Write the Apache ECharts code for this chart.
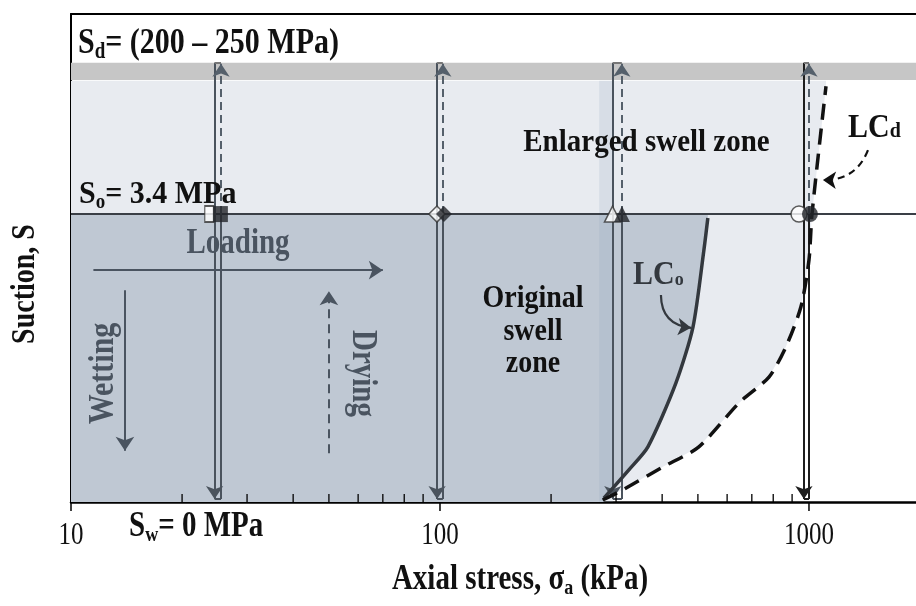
<!DOCTYPE html>
<html><head><meta charset="utf-8">
<script src="https://cdn.jsdelivr.net/npm/echarts@6/dist/echarts.min.js"></script>
<style>html,body{margin:0;padding:0;background:#fff}#c{width:916px;height:606px}</style>
</head><body><div id="c"></div>
<script>
// ---- data ----
const xRange=[10,1950];
const yRange=[0,100];
const majorTicks=[10,100,1000];
const tickLabels=['10','100','1000'];
const minorTicks=[20,30,40,50,60,70,80,90,200,300,400,500,600,700,800,900];
const suctionSo=59.0;
const suctionSdBand=[86.5,90.0];
const enlargedTop=86.3;
const lcoX=[278,325,366,436,485,519,532];
const lcoY=[0.8,6.6,11.3,24.4,35.9,51.6,58.2];
const lcdX=[276,313,402,503,646,779,866,951,1000,1019,1112];
const lcdY=[0.4,2.5,7.2,11.3,20.3,25.6,31.8,40.0,49.6,59.0,85.2];
const pathDownX=[24.5,98.2,294,969];
const pathUpX=[25.5,101.8,311,1000];
const pathTop=90.0, pathBottom=0.6;
const openMarkerX=[23.7,98.1,293.4,939.6];
const filledMarkerX=[25.4,102.5,311.3,1006];
const markerShapes=['rect','diamond','triangle','circle'];
const stripX=[270,294];
const loadingArrow=[[11.5,47.5],[70,47.5]];
const wettingArrow=[[14,43.4],[14,10.5]];
const dryingArrow=[[50,10.0],[50,43.2]];
const lcoPointer=[[397,42.4],[479,35.7]];
const lcdPointer=[[1445,72.1],[1091,66.0]];

const FONT='"Liberation Serif","Times New Roman",serif';
const SLATE='#4a5460';
const ctx=document.createElement('canvas').getContext('2d');
function tw(t,size,weight){ctx.font=weight+' '+size+'px "Liberation Serif"';return ctx.measureText(t).width;}
function textGroup(o){
  let cx=0;const kids=[];const w=o.weight||'bold';
  for(const p of o.parts){
    const sz=p.sub?o.subSize:o.size;
    const drop=(o.subDrop==null?0.12:o.subDrop);
    const dy=p.sub?(0.33*o.size+drop*o.size-0.33*sz):0;
    kids.push({type:'text',x:cx,y:dy,z:100,silent:true,style:{text:p.t,fontSize:sz,fontWeight:w,fontFamily:FONT,fill:o.color||'#111',align:'left',verticalAlign:'middle'}});
    cx+=tw(p.t,sz,w);
  }
  const shift=o.align==='center'?-cx/2:0;
  kids.forEach(k=>{k.x+=shift;});
  return {type:'group',x:o.x,y:o.y,scaleY:o.scaleY||1,rotation:o.rotation||0,children:kids,silent:true,z:100};
}

const chart=echarts.init(document.getElementById('c'),null,{renderer:'canvas'});

function fillsRender(params,api){
  const pt=(x,y)=>api.coord([x,y]);
  const light=[pt(xRange[0],0),pt(xRange[0],enlargedTop),pt(lcdX[lcdX.length-1],enlargedTop)];
  for(let i=lcdX.length-1;i>=0;i--) light.push(pt(lcdX[i],lcdY[i]));
  light.push(pt(lcdX[0],0));
  const dark=[pt(xRange[0],0),pt(xRange[0],suctionSo),pt(lcoX[lcoX.length-1],suctionSo)];
  for(let i=lcoX.length-1;i>=0;i--) dark.push(pt(lcoX[i],lcoY[i]));
  dark.push(pt(lcoX[0],0));
  const b0=pt(xRange[0],suctionSdBand[1]), b1=pt(xRange[1],suctionSdBand[0]);
  const s0=pt(stripX[0],enlargedTop), s1=pt(stripX[1],0);
  return {type:'group',children:[
    {type:'polygon',shape:{points:light},style:{fill:'#e8ebf0'}},
    {type:'rect',shape:{x:b0[0],y:b0[1],width:b1[0]-b0[0],height:b1[1]-b0[1]},style:{fill:'#c6c6c6'}},
    {type:'polygon',shape:{points:dark},style:{fill:'#bfc8d3'}},
    {type:'rect',shape:{x:s0[0],y:s0[1],width:s1[0]-s0[0],height:s1[1]-s0[1]},style:{fill:'rgba(140,160,188,0.18)'}}
  ]};
}
function tickRender(params,api){
  const v=api.value(0), kind=api.value(1);
  const p=api.coord([v,0]);
  if(kind===1) return {type:'line',shape:{x1:p[0],y1:p[1],x2:p[0],y2:p[1]+9},style:{stroke:'#000',lineWidth:1.5}};
  return {type:'line',shape:{x1:p[0],y1:p[1],x2:p[0],y2:p[1]-8},style:{stroke:'#000',lineWidth:1.3}};
}
function tickLabelRender(params,api){
  const i=params.dataIndex;
  const p=api.coord([api.value(0),0]);
  return {type:'text',x:p[0],y:p[1]+34,scaleY:1.25,style:{text:tickLabels[i],fontSize:25,fontFamily:FONT,fill:'#111',align:'center',verticalAlign:'middle'}};
}

const pathColors=['#4a535d','#4a535d','#4a535d','#1e1e1e'];
const option={
  animation:false,
  grid:{left:71,right:0,top:14,bottom:104,containLabel:false},
  xAxis:[
    {type:'log',logBase:10,min:xRange[0],max:xRange[1],axisLine:{show:true,onZero:false,lineStyle:{color:'#000',width:2.5}},axisTick:{show:false},axisLabel:{show:false},splitLine:{show:false},minorTick:{show:false}},
    {type:'log',logBase:10,min:xRange[0],max:xRange[1],position:'top',axisLine:{show:true,onZero:false,lineStyle:{color:'#000',width:2}},axisTick:{show:false},axisLabel:{show:false},splitLine:{show:false}}
  ],
  yAxis:{type:'value',min:yRange[0],max:yRange[1],axisLine:{show:true,onZero:false,lineStyle:{color:'#000',width:2}},axisTick:{show:false},axisLabel:{show:false},splitLine:{show:false}},
  series:[
    {type:'custom',name:'fills',renderItem:fillsRender,data:[[xRange[0],0]],silent:true,z:1,clip:false},
    {type:'line',name:'So',data:[[xRange[0],suctionSo],[xRange[1],suctionSo]],symbol:'none',lineStyle:{color:'#3a3f46',width:2},z:3,silent:true},
    {type:'lines',coordinateSystem:'cartesian2d',name:'wetting paths',symbol:['none','arrow'],symbolSize:[1,13],
      data:pathDownX.map((x,i)=>({coords:[[x,pathTop],[x,pathBottom]],lineStyle:{color:pathColors[i]}})),
      lineStyle:{width:2,opacity:1},z:5,silent:true},
    {type:'lines',coordinateSystem:'cartesian2d',name:'path connectors',symbol:'none',
      data:[].concat(
        pathUpX.map((x,i)=>({coords:[[x,pathBottom],[x,suctionSo]],lineStyle:{color:pathColors[i]}})),
        pathUpX.map((x,i)=>({coords:[[pathDownX[i],pathBottom],[x,pathBottom]],lineStyle:{color:pathColors[i]}})),
        pathUpX.map((x,i)=>({coords:[[pathDownX[i],pathTop],[x,pathTop]],lineStyle:{color:'#777'}}))
      ),
      lineStyle:{width:2,opacity:1},z:5,silent:true},
    {type:'lines',coordinateSystem:'cartesian2d',name:'drying paths',symbol:['none','arrow'],symbolSize:[1,13],
      data:pathUpX.map((x,i)=>({coords:[[x,suctionSo],[x,pathTop-0.2]]})),
      lineStyle:{width:2,type:[8,5],color:'#55606b',opacity:1},z:5,silent:true},
    {type:'line',name:'LCo',data:lcoX.map((x,i)=>[x,lcoY[i]]),smooth:0.25,symbol:'none',lineStyle:{color:'#33383e',width:3.5},z:6,silent:true},
    {type:'line',name:'LCd',data:lcdX.map((x,i)=>[x,lcdY[i]]),smooth:0.25,symbol:'none',lineStyle:{color:'#111',width:3.5,type:[16,9]},z:6,silent:true},
    {type:'scatter',name:'open',data:openMarkerX.map((x,i)=>({value:[x,suctionSo],symbol:markerShapes[i],symbolSize:i===0?[9,16]:[16,16]})),
      itemStyle:{color:'#fff',borderColor:'#333',borderWidth:1.5},z:7,silent:true},
    {type:'scatter',name:'filled',data:filledMarkerX.map((x,i)=>({value:[x,suctionSo],symbol:markerShapes[i],symbolSize:i===0?[15,16]:[16,16]})),
      itemStyle:{color:'#23262a'},z:8,silent:true},
    {type:'lines',coordinateSystem:'cartesian2d',name:'process arrows',symbol:['none','arrow'],symbolSize:[1,14],
      data:[{coords:loadingArrow},{coords:wettingArrow}],lineStyle:{color:SLATE,width:2,opacity:1},z:9,silent:true},
    {type:'lines',coordinateSystem:'cartesian2d',name:'drying arrow',symbol:['none','arrow'],symbolSize:[1,14],
      data:[{coords:dryingArrow}],lineStyle:{color:SLATE,width:2,type:[9,6],opacity:1},z:9,silent:true},
    {type:'lines',coordinateSystem:'cartesian2d',name:'LCo pointer',symbol:['none','arrow'],symbolSize:[1,13],
      data:[{coords:lcoPointer}],lineStyle:{color:'#33383e',width:2.2,curveness:-0.45,opacity:1},z:9,silent:true},
    {type:'lines',coordinateSystem:'cartesian2d',name:'LCd pointer',symbol:['none','arrow'],symbolSize:[1,13],
      data:[{coords:lcdPointer}],lineStyle:{color:'#111',width:2.2,type:[7,5],curveness:0.35,opacity:1},z:9,silent:true},
    {type:'custom',name:'ticks',renderItem:tickRender,
      data:[].concat(majorTicks.map(v=>[v,1]),minorTicks.map(v=>[v,0])),z:10,silent:true,clip:false},
    {type:'custom',name:'tick labels',renderItem:tickLabelRender,data:majorTicks.map(v=>[v,0]),z:10,silent:true,clip:false}
  ],
  graphic:{elements:[
    textGroup({x:78,y:43.5,size:30,subSize:19,scaleY:1.18,parts:[{t:'S'},{t:'d',sub:true},{t:'= (200 – 250 MPa)'}]}),
    textGroup({x:79,y:195,size:30,subSize:19,scaleY:1.05,parts:[{t:'S'},{t:'o',sub:true},{t:'= 3.4 MPa'}]}),
    textGroup({x:238,y:244.5,size:29,scaleY:1.2,align:'center',color:SLATE,parts:[{t:'Loading'}]}),
    textGroup({x:104,y:373.5,size:30,scaleY:1.2,align:'center',color:SLATE,rotation:Math.PI/2,parts:[{t:'Wetting'}]}),
    textGroup({x:362,y:373.5,size:29,scaleY:1.2,align:'center',color:SLATE,rotation:-Math.PI/2,parts:[{t:'Drying'}]}),
    textGroup({x:646.5,y:142.5,size:29,scaleY:1.1,align:'center',parts:[{t:'Enlarged swell zone'}]}),
    textGroup({x:848,y:128,size:30,subSize:20,subDrop:0,scaleY:1.1,parts:[{t:'LC'},{t:'d',sub:true}]}),
    textGroup({x:533,y:299,size:28,scaleY:1.15,align:'center',parts:[{t:'Original'}]}),
    textGroup({x:533,y:332,size:28,scaleY:1.15,align:'center',parts:[{t:'swell'}]}),
    textGroup({x:533,y:364,size:28,scaleY:1.15,align:'center',parts:[{t:'zone'}]}),
    textGroup({x:633,y:275.5,size:30,subSize:18,subDrop:0,scaleY:1.1,color:'#33383e',parts:[{t:'LC'},{t:'o',sub:true}]}),
    textGroup({x:129,y:527,size:29,subSize:18,scaleY:1.2,parts:[{t:'S'},{t:'w',sub:true},{t:'= 0 MPa'}]}),
    textGroup({x:520,y:580,size:29,subSize:18,scaleY:1.2,align:'center',parts:[{t:'Axial stress, σ'},{t:'a',sub:true},{t:' (kPa)'}]}),
    textGroup({x:25,y:284,size:28,scaleY:1.2,align:'center',rotation:Math.PI/2,parts:[{t:'Suction, S'}]})
  ]}
};
chart.setOption(option);
</script></body></html>
